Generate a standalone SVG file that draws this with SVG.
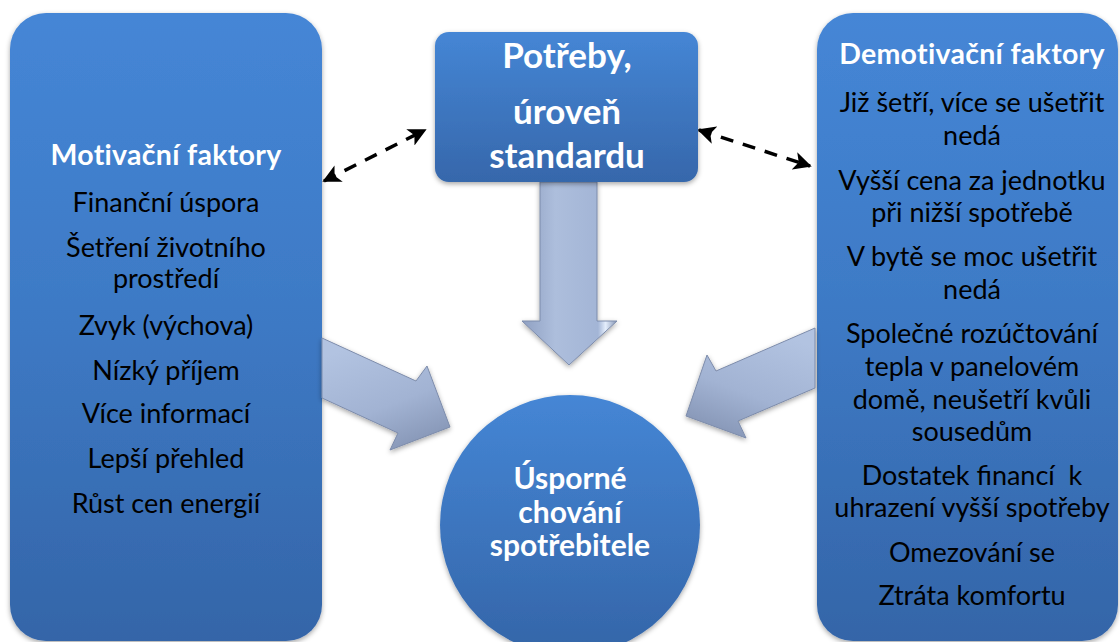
<svg xmlns="http://www.w3.org/2000/svg" width="1120" height="642" viewBox="0 0 1120 642">
<defs>
  <linearGradient id="gPanel" x1="0" y1="0" x2="0" y2="1">
    <stop offset="0" stop-color="#4586d6"/>
    <stop offset="0.5" stop-color="#3d79c4"/>
    <stop offset="1" stop-color="#3465a8"/>
  </linearGradient>
  <linearGradient id="gBox" x1="0" y1="0" x2="0" y2="1">
    <stop offset="0" stop-color="#4586d5"/>
    <stop offset="1" stop-color="#3667ab"/>
  </linearGradient>
  <linearGradient id="gCircle" x1="0" y1="0" x2="0" y2="1">
    <stop offset="0" stop-color="#4586d5"/>
    <stop offset="1" stop-color="#3465a8"/>
  </linearGradient>
  <linearGradient id="gDown" x1="0" y1="0" x2="1" y2="0">
    <stop offset="0" stop-color="#8fa0c2"/>
    <stop offset="0.35" stop-color="#adbedc"/>
    <stop offset="0.8" stop-color="#a3b5d6"/>
    <stop offset="0.88" stop-color="#e4eefc"/>
    <stop offset="1" stop-color="#8292b2"/>
  </linearGradient>
  <linearGradient id="gLeft" x1="0" y1="0" x2="0" y2="1" gradientTransform="rotate(-24 0.5 0.5)">
    <stop offset="0" stop-color="#b2c3e1"/>
    <stop offset="0.6" stop-color="#a2b3d3"/>
    <stop offset="1" stop-color="#8898b8"/>
  </linearGradient>
  <linearGradient id="gRight" x1="0" y1="0" x2="0" y2="1" gradientTransform="rotate(24 0.5 0.5)">
    <stop offset="0" stop-color="#b2c3e1"/>
    <stop offset="0.6" stop-color="#a2b3d3"/>
    <stop offset="1" stop-color="#8898b8"/>
  </linearGradient>
  <filter id="shadow" x="-10%" y="-10%" width="120%" height="120%">
    <feDropShadow dx="0" dy="2" stdDeviation="2.5" flood-color="#000" flood-opacity="0.35"/>
  </filter>
  <marker id="ah" viewBox="0 0 10 10" refX="9" refY="5" markerWidth="5.2" markerHeight="5.2" orient="auto-start-reverse">
    <path d="M0,0 L10,5 L0,10 L2.5,5 Z" fill="#000"/>
  </marker>
  <style>
    .t { font-family: Lato, "Open Sans", "Liberation Sans", sans-serif; text-anchor: middle; }
    .item { font-size: 27px; fill: #000; }
    .head { font-size: 28.5px; font-weight: bold; fill: #fff; letter-spacing: 0.3px; }
    .big { font-size: 35px; font-weight: bold; fill: #fff; }
    .circ { font-size: 30px; font-weight: bold; fill: #fff; }
    .block { stroke: #7d8cab; stroke-width: 1; filter: url(#shadow); }
    .dash { stroke: #000; stroke-width: 3.5; stroke-dasharray: 13 10; fill: none; }
  </style>
</defs>
<rect width="1120" height="642" fill="#fff"/>

<g id="left-panel">
  <rect x="10" y="13" width="312" height="628" rx="36" fill="url(#gPanel)" filter="url(#shadow)"/>
  <text class="t head" x="166" y="165">Motivační faktory</text>
  <text class="t item" x="166" y="212">Finanční úspora</text>
  <text class="t item" x="166" y="257">Šetření životního</text>
  <text class="t item" x="166" y="288">prostředí</text>
  <text class="t item" x="166" y="335">Zvyk (výchova)</text>
  <text class="t item" x="166" y="380">Nízký příjem</text>
  <text class="t item" x="166" y="423">Více informací</text>
  <text class="t item" x="166" y="468">Lepší přehled</text>
  <text class="t item" x="166" y="513">Růst cen energií</text>
</g>

<g id="right-panel">
  <rect x="817" y="13" width="301" height="628" rx="36" fill="url(#gPanel)" filter="url(#shadow)"/>
  <text class="t head" x="972" y="64">Demotivační faktory</text>
  <text class="t item" x="972" y="112">Již šetří, více se ušetřit</text>
  <text class="t item" x="972" y="145">nedá</text>
  <text class="t item" x="972" y="190">Vyšší cena za jednotku</text>
  <text class="t item" x="972" y="222">při nižší spotřebě</text>
  <text class="t item" x="972" y="266">V bytě se moc ušetřit</text>
  <text class="t item" x="972" y="299">nedá</text>
  <text class="t item" x="972" y="343">Společné rozúčtování</text>
  <text class="t item" x="972" y="376">tepla v panelovém</text>
  <text class="t item" x="972" y="409">domě, neušetří kvůli</text>
  <text class="t item" x="972" y="441">sousedům</text>
  <text class="t item" x="972" y="485" xml:space="preserve">Dostatek financí  k</text>
  <text class="t item" x="972" y="517">uhrazení vyšší spotřeby</text>
  <text class="t item" x="972" y="562">Omezování se</text>
  <text class="t item" x="972" y="605">Ztráta komfortu</text>
</g>

<g id="connectors">
  <polygon class="block" points="540,182 597,182 597,321 617,321 569,365 522,321 540,321" fill="url(#gDown)"/>
  <polygon class="block" points="322,338 416,381 427,366 450,427 390,450 398,433 322,398" fill="url(#gLeft)"/>
  <polygon class="block" points="815,328 716,371 707,355 686,416 746,438 738,421 815,388" fill="url(#gRight)"/>
  <line class="dash" x1="324" y1="181" x2="425" y2="130" marker-start="url(#ah)" marker-end="url(#ah)"/>
  <line class="dash" x1="699" y1="130" x2="810" y2="166" marker-start="url(#ah)" marker-end="url(#ah)"/>
</g>

<g id="top-box">
  <rect x="435" y="32" width="263" height="150" rx="14" fill="url(#gBox)" filter="url(#shadow)"/>
  <text class="t big" x="567" y="68">Potřeby,</text>
  <text class="t big" x="567" y="124">úroveň</text>
  <text class="t big" x="567" y="168">standardu</text>
</g>

<g id="circle">
  <circle cx="570" cy="525" r="130" fill="url(#gCircle)" filter="url(#shadow)"/>
  <text class="t circ" x="570" y="489">Úsporné</text>
  <text class="t circ" x="570" y="523">chování</text>
  <text class="t circ" x="570" y="556">spotřebitele</text>
</g>
</svg>
